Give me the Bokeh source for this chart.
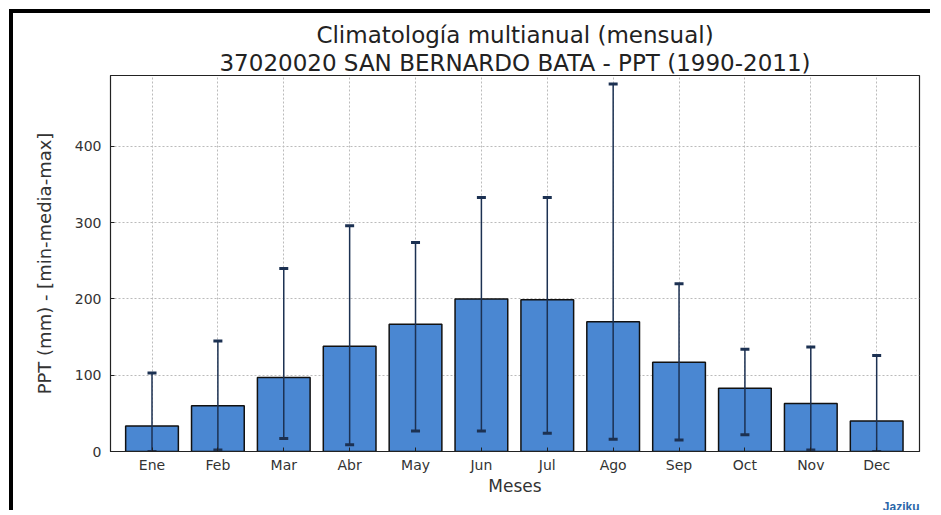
from bokeh.plotting import figure
from bokeh.models import FixedTicker, Title, Range1d
from bokeh.embed import file_html
from bokeh.resources import INLINE

# ---- data ----
months = ["Ene", "Feb", "Mar", "Abr", "May", "Jun", "Jul", "Ago", "Sep", "Oct", "Nov", "Dec"]
media = [33.5, 60, 97, 138, 167, 200, 199, 170, 117, 83, 63, 40]
minimo = [0, 2, 17, 9, 27, 27, 24, 16, 15, 22, 2, 0]
maximo = [103, 145, 240, 296, 274, 333, 333, 482, 220, 134, 137, 126]
y_ticks = [0, 100, 200, 300, 400]
title1 = "Climatología multianual (mensual)"
title2 = "37020020 SAN BERNARDO BATA - PPT (1990-2011)"
x_label = "Meses"
y_label = "PPT (mm) - [min-media-max]"
logo = "Jaziku"

x = list(range(1, len(months) + 1))

FONT = "DejaVu Sans"
TXT = "#333333"
NAVY = "#1c3152"

p = figure(width=921, height=501,
           x_range=Range1d(0.37, 12.65), y_range=Range1d(0, 493),
           output_backend="svg", toolbar_location=None,
           min_border_left=97, min_border_right=15,
           min_border_top=62, min_border_bottom=61,
           background_fill_color="white", border_fill_color="white")
p.styles = {"border-top": "4px solid black", "border-left": "4px solid black",
            "margin-left": "9px", "margin-top": "9px"}

p.vbar(x=x, top=media, bottom=0, width=0.8,
       fill_color="#4a87d2", line_color="#111111", line_width=1.5)
p.segment(x0=x, y0=minimo, x1=x, y1=maximo, line_color=NAVY, line_width=1.5)
p.scatter(x=x, y=maximo, marker="dash", size=9, line_width=3, line_color=NAVY)
p.scatter(x=x, y=minimo, marker="dash", size=9, line_width=3, line_color=NAVY)

# axes
p.xaxis.ticker = FixedTicker(ticks=x)
p.xaxis.major_label_overrides = {i: m for i, m in zip(x, months)}
p.yaxis.ticker = FixedTicker(ticks=y_ticks)
for ax in (p.xaxis, p.yaxis):
    ax.major_label_text_font = FONT
    ax.major_label_text_font_size = "14px"
    ax.major_label_text_color = TXT
    ax.axis_label_text_font = FONT
    ax.axis_label_text_font_style = "normal"
    ax.axis_label_text_color = TXT
    ax.axis_line_color = "#222222"
    ax.major_tick_in = 4
    ax.major_tick_out = 0
    ax.minor_tick_line_color = None
    ax.major_tick_line_color = "#222222"
p.xaxis.axis_label = x_label
p.xaxis.axis_label_text_font_size = "17px"
p.xaxis.major_label_standoff = 5
p.xaxis.axis_label_standoff = 0
p.yaxis.axis_label = y_label
p.yaxis.axis_label_text_font_size = "18px"
p.yaxis.major_label_standoff = 9
p.yaxis.axis_label_standoff = 17

p.xgrid.ticker = FixedTicker(ticks=x)
p.grid.grid_line_color = "#bbbbbb"
p.grid.grid_line_dash = "2 2"
p.grid.grid_line_width = 1
p.outline_line_color = "#222222"
p.outline_line_width = 1.2

# titles (first added sits closest to the plot)
t2 = Title(text=title2, align="center", text_font=FONT, text_font_size="23px",
           text_font_style="normal", text_color="#222222", standoff=0, offset=0)
t1 = Title(text=title1, align="center", text_font=FONT, text_font_size="23px",
           text_font_style="normal", text_color="#222222", standoff=0, offset=0)
p.add_layout(t2, "above")
p.add_layout(t1, "above")

# logo text below the axis, at the right
p.add_layout(Title(text=logo, align="right", vertical_align="middle",
                   text_font="Liberation Sans", text_font_size="12px",
                   text_font_style="bold", text_color="#2a66a8", standoff=0, offset=0),
             "below")

open("out.html", "w").write(file_html(p, INLINE))
